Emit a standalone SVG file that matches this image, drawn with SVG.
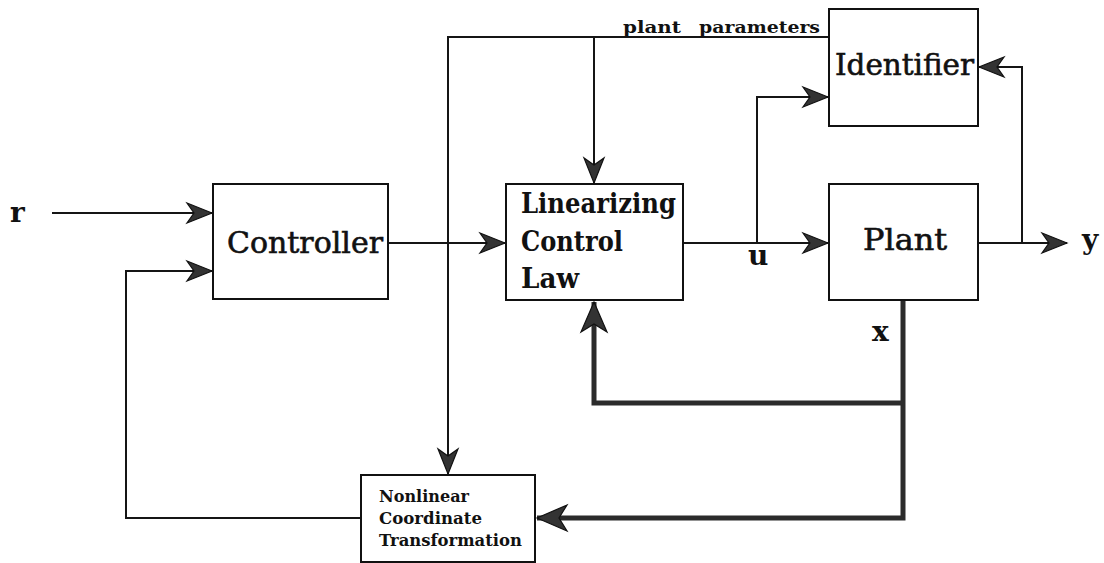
<svg xmlns="http://www.w3.org/2000/svg" width="1104" height="563" viewBox="0 0 1104 563">
  <style>
    .box { fill: #ffffff; stroke: #111111; stroke-width: 2; }
    .wire { fill: none; stroke: #151515; stroke-width: 2; }
    .bus { fill: none; stroke: #2b2b2b; stroke-width: 5; stroke-linejoin: miter; }
    .name { font-family: "DejaVu Serif", "Liberation Serif", serif; font-size: 29px; fill: #111111; stroke: #111111; stroke-width: 0.6; }
    .name-b { font-family: "DejaVu Serif", "Liberation Serif", serif; font-size: 27px; font-weight: bold; fill: #111111; }
    .small-b { font-family: "DejaVu Serif", "Liberation Serif", serif; font-size: 17px; font-weight: bold; fill: #111111; }
    .sig { font-family: "DejaVu Serif", "Liberation Serif", serif; font-size: 28px; font-weight: bold; fill: #111111; }
  </style>
  <defs>
    <marker id="arrow" markerUnits="userSpaceOnUse" markerWidth="30" markerHeight="26" refX="0" refY="0" viewBox="-28 -13 30 26" orient="auto">
      <path d="M0,0 L-25,-10 L-18,0 L-25,10 Z" fill="#333333" stroke="#111111" stroke-width="1.2" stroke-linejoin="miter"/>
    </marker>
    <marker id="arrow-bold" markerUnits="userSpaceOnUse" markerWidth="36" markerHeight="32" refX="0" refY="0" viewBox="-34 -16 36 32" orient="auto">
      <path d="M0,0 L-30,-13 L-22,0 L-30,13 Z" fill="#333333" stroke="#111111" stroke-width="1.2" stroke-linejoin="miter"/>
    </marker>
  </defs>

  <rect width="1104" height="563" fill="#ffffff"/>

  <!-- signal routing -->
  <g id="connectors">
    <!-- reference input -->
    <line class="wire" x1="52" y1="213" x2="212" y2="213" marker-end="url(#arrow)"/>
    <!-- controller to linearizing law -->
    <line class="wire" x1="388" y1="243" x2="505" y2="243" marker-end="url(#arrow)"/>
    <!-- u to plant -->
    <line class="wire" x1="683" y1="243" x2="828" y2="243" marker-end="url(#arrow)"/>
    <!-- u to identifier -->
    <polyline class="wire" points="757,243 757,97 828,97" marker-end="url(#arrow)"/>
    <!-- plant output y -->
    <line class="wire" x1="978" y1="243" x2="1067" y2="243" marker-end="url(#arrow)"/>
    <!-- y to identifier -->
    <polyline class="wire" points="1022,243 1022,67 979,67" marker-end="url(#arrow)"/>
    <!-- plant parameters bus -->
    <polyline class="wire" points="829,37 448,37 448,474" marker-end="url(#arrow)"/>
    <line class="wire" x1="594" y1="37" x2="594" y2="183" marker-end="url(#arrow)"/>
    <!-- transformed state back to controller -->
    <polyline class="wire" points="361,518 126,518 126,271 212,271" marker-end="url(#arrow)"/>
    <!-- state x feedback (heavy) -->
    <polyline class="bus" points="903,300 903,518 537,518" marker-end="url(#arrow-bold)"/>
    <polyline class="bus" points="903,403 594,403 594,302" marker-end="url(#arrow-bold)"/>
  </g>

  <g id="controller">
    <rect class="box" x="213" y="184" width="175" height="115"/>
    <text class="name" x="227" y="253" textLength="156" lengthAdjust="spacingAndGlyphs">Controller</text>
  </g>

  <g id="linearizing-control-law">
    <rect class="box" x="506" y="184" width="177" height="116"/>
    <text class="name-b" x="521" y="213" textLength="155" lengthAdjust="spacingAndGlyphs">Linearizing</text>
    <text class="name-b" x="521" y="251" textLength="102" lengthAdjust="spacingAndGlyphs">Control</text>
    <text class="name-b" x="521" y="288" textLength="58" lengthAdjust="spacingAndGlyphs">Law</text>
  </g>

  <g id="identifier">
    <rect class="box" x="829" y="9" width="149" height="117"/>
    <text class="name" x="835" y="75" textLength="139" lengthAdjust="spacingAndGlyphs">Identifier</text>
  </g>

  <g id="plant">
    <rect class="box" x="829" y="184" width="149" height="116"/>
    <text class="name" x="863" y="250" textLength="84" lengthAdjust="spacingAndGlyphs">Plant</text>
  </g>

  <g id="nonlinear-coordinate-transformation">
    <rect class="box" x="361" y="475" width="174" height="87"/>
    <text class="small-b" x="379" y="502" textLength="90" lengthAdjust="spacingAndGlyphs">Nonlinear</text>
    <text class="small-b" x="379" y="524" textLength="103" lengthAdjust="spacingAndGlyphs">Coordinate</text>
    <text class="small-b" x="379" y="546" textLength="143" lengthAdjust="spacingAndGlyphs">Transformation</text>
  </g>

  <g id="labels">
    <text class="sig" x="10" y="222">r</text>
    <text class="sig" x="748" y="265">u</text>
    <text class="sig" x="872" y="341">x</text>
    <text class="sig" x="1082" y="249">y</text>
    <text class="small-b" x="623" y="33" font-size="20" textLength="58" lengthAdjust="spacingAndGlyphs">plant</text>
    <text class="small-b" x="699" y="33" font-size="20" textLength="121" lengthAdjust="spacingAndGlyphs">parameters</text>
  </g>
</svg>
